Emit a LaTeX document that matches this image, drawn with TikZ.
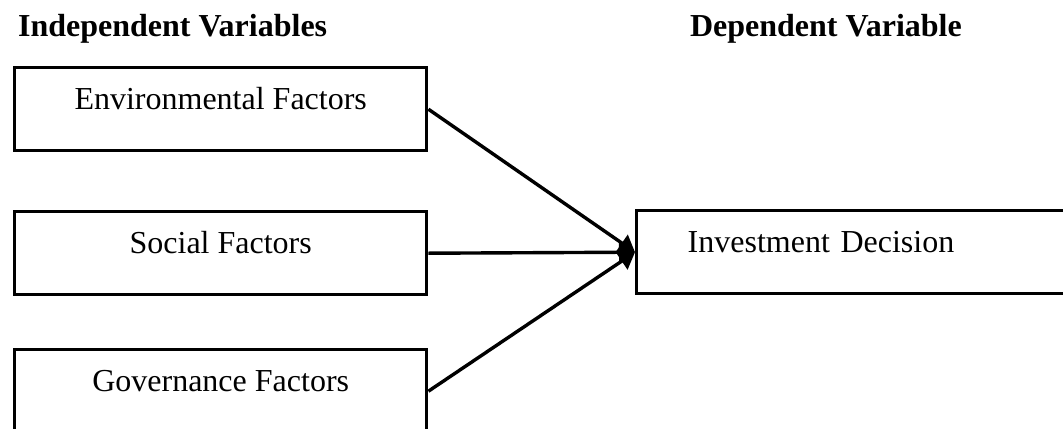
\documentclass[tikz,border=0pt]{standalone}
\usepackage{fontspec}
\setmainfont{Liberation Serif}
\usepackage{tikz}
\usetikzlibrary{arrows.meta,positioning}

\begin{document}
\begin{tikzpicture}[x=0.5pt,y=-0.5pt,
    font=\fontsize{16}{19}\selectfont,
    varbox/.style={draw,line width=1.7pt,rectangle,inner ysep=0pt,
      text height=21pt,text depth=20.5pt},
    link/.style={line width=1.7pt,-{Triangle[length=8pt,width=10pt]}}]
        \useasboundingbox (0,0) rectangle (1063,428);
        \clip (0,0) rectangle (1063,428);
        \node[anchor=base west,font=\fontsize{16}{19}\selectfont\bfseries] (indep) at (11,36) {Independent Variables};
        \node[anchor=base west,font=\fontsize{16}{19}\selectfont\bfseries] (dep) at (683,36) {Dependent Variable};
        \node[varbox,anchor=north west,minimum width=206pt] (env) at (13,66) {Environmental Factors};
        \node[varbox,anchor=north west,minimum width=206pt] (soc) at (13,210) {Social Factors};
        \node[varbox,anchor=north west,minimum width=206pt] (gov) at (13,348) {Governance Factors};
        \node[varbox,anchor=north west,inner xsep=25.5pt,text width=170pt,align=left] (inv) at (635,209) {Investment Decision};
        \draw[link] (env.east) -- (inv.west);
        \draw[link] (soc.east) -- (inv.west);
        \draw[link] (gov.east) -- (inv.west);
      \end{tikzpicture}
\end{document}
